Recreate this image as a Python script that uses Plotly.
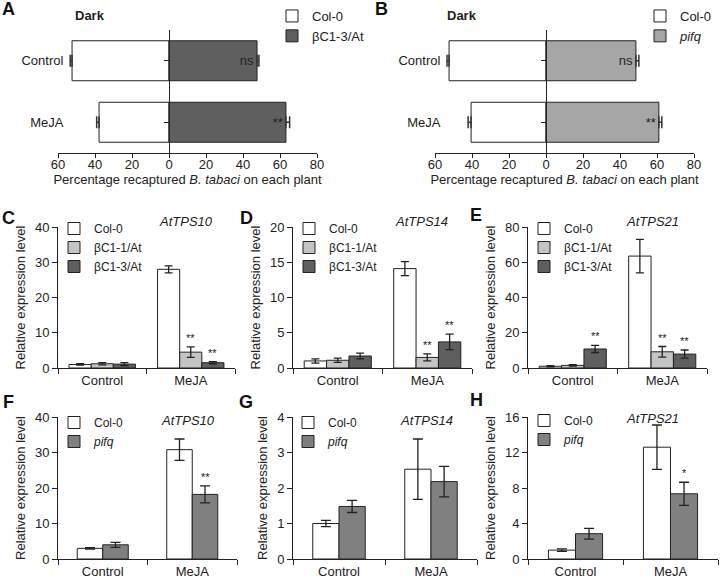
import plotly.graph_objects as go

W, H = 721, 581
FONT = "Liberation Sans, Arial, sans-serif"

# ---------------- data ----------------
treatments = ["Control", "MeJA"]

# Panel A (percentage recaptured, Dark)
a_col0 = [52.4, 37.8]
a_col0_err = [1.0, 1.3]
a_bc13 = [47.6, 63.2]
a_bc13_err = [1.0, 2.0]
a_sig = ["ns", "**"]

# Panel B
b_col0 = [52.4, 40.5]
b_col0_err = [1.1, 1.6]
b_pifq = [48.6, 61.0]
b_pifq_err = [1.6, 1.6]
b_sig = ["ns", "**"]

# Panel C  AtTPS10
c_col0 = [1.0, 28.0]
c_col0_err = [0.2, 1.0]
c_bc11 = [1.2, 4.5]
c_bc11_err = [0.3, 1.5]
c_bc13 = [1.1, 1.5]
c_bc13_err = [0.4, 0.3]
c_sig11 = ["", "**"]
c_sig13 = ["", "**"]

# Panel D  AtTPS14
d_col0 = [1.0, 14.1]
d_col0_err = [0.3, 1.0]
d_bc11 = [1.1, 1.5]
d_bc11_err = [0.3, 0.5]
d_bc13 = [1.7, 3.7]
d_bc13_err = [0.4, 1.1]
d_sig11 = ["", "**"]
d_sig13 = ["", "**"]

# Panel E  AtTPS21
e_col0 = [1.0, 63.5]
e_col0_err = [0.3, 9.5]
e_bc11 = [1.5, 9.2]
e_bc11_err = [0.4, 3.0]
e_bc13 = [10.8, 7.9]
e_bc13_err = [2.0, 2.3]
e_sig11 = ["", "**"]
e_sig13 = ["**", "**"]

# Panel F  AtTPS10 (pifq)
f_col0 = [3.0, 30.8]
f_col0_err = [0.2, 3.0]
f_pifq = [4.0, 18.2]
f_pifq_err = [0.7, 2.4]
f_sig = ["", "**"]

# Panel G  AtTPS14 (pifq)
g_col0 = [1.0, 2.53]
g_col0_err = [0.09, 0.85]
g_pifq = [1.48, 2.18]
g_pifq_err = [0.17, 0.43]
g_sig = ["", ""]

# Panel H  AtTPS21 (pifq)
h_col0 = [1.0, 12.6]
h_col0_err = [0.15, 2.5]
h_pifq = [2.85, 7.35]
h_pifq_err = [0.6, 1.3]
h_sig = ["", "*"]

# ---------------- styling ----------------
C_WHITE = "#ffffff"
C_DARK = "#5f5f5f"
C_LIGHT = "#c4c4c4"
C_MID = "#808080"
C_B = "#a6a6a6"
EDGE = "#222222"

def px(x):
    return x / W

def py(y):
    return 1 - y / H

# subplot pixel boxes: left, right, top, bottom
boxes = {
    1: (58, 317, 30, 153),
    2: (435, 694, 30, 153),
    3: (58, 235, 227, 368),
    4: (293, 472, 227, 368),
    5: (528, 707, 227, 368),
    6: (58, 237, 417, 559),
    7: (293, 477, 417, 559),
    8: (528, 718, 417, 559),
}
gene_pos = {3: (186, 222), 4: (421, 222), 5: (652, 222), 6: (188, 420), 7: (427, 420), 8: (652, 418)}

fig = go.Figure()
annotations = []


def hpanel(k, col0, col0_err, mut, mut_err, mut_name, mut_color, sig, leg):
    xa, ya = f"x{k}", f"y{k}"
    fig.add_trace(go.Bar(
        y=treatments, x=[-v for v in col0], orientation="h", name="Col-0",
        width=0.65, marker=dict(color=C_WHITE, line=dict(color=EDGE, width=1)),
        error_x=dict(type="data", symmetric=False, array=[0] * len(col0),
                     arrayminus=col0_err, color="#333", thickness=1.5, width=6),
        xaxis=xa, yaxis=ya, legend=leg))
    fig.add_trace(go.Bar(
        y=treatments, x=mut, orientation="h", name=mut_name,
        width=0.65, marker=dict(color=mut_color, line=dict(color=EDGE, width=1)),
        error_x=dict(type="data", symmetric=False, array=mut_err,
                     arrayminus=[0] * len(mut), color="#333", thickness=1.5, width=6),
        text=sig, textposition="inside", insidetextanchor="end",
        textfont=dict(size=13, color="#222", family=FONT), constraintext="none",
        xaxis=xa, yaxis=ya, legend=leg))


def vpanel(k, series, gene, leg, width, offsets, capw):
    xa, ya = f"x{k}", f"y{k}"
    for (name, vals, errs, color, sig), off in zip(series, offsets):
        fig.add_trace(go.Bar(
            x=treatments, y=vals, name=name, width=width, offset=off,
            marker=dict(color=color, line=dict(color=EDGE, width=1)),
            error_y=dict(type="data", array=errs, color="#222", thickness=1.3, width=capw),
            xaxis=xa, yaxis=ya, legend=leg))
        for i, s in enumerate(sig):
            if s:
                annotations.append(dict(
                    x=i + off + width / 2, y=vals[i] + errs[i], xref=xa, yref=ya,
                    text=s, showarrow=False, xanchor="center", yanchor="bottom", yshift=1,
                    font=dict(size=11, color="#222", family=FONT)))
    gx, gy = gene_pos[k]
    annotations.append(dict(x=px(gx), y=py(gy), xref="paper", yref="paper",
                            text=f"<i>{gene}</i>", showarrow=False, xanchor="center",
                            yanchor="middle", font=dict(size=13, color="#222", family=FONT)))


hpanel(1, a_col0, a_col0_err, a_bc13, a_bc13_err, "βC1-3/At", C_DARK, a_sig, "legend")
hpanel(2, b_col0, b_col0_err, b_pifq, b_pifq_err, "<i>pifq</i>", C_B, b_sig, "legend2")

W3 = 0.25
OFF3 = [-0.375, -0.125, 0.125]
W2 = 0.285
OFF2 = [-0.285, 0.0]

vpanel(3, [("Col-0", c_col0, c_col0_err, C_WHITE, ["", ""]),
           ("βC1-1/At", c_bc11, c_bc11_err, C_LIGHT, c_sig11),
           ("βC1-3/At", c_bc13, c_bc13_err, C_DARK, c_sig13)],
       "AtTPS10", "legend3", W3, OFF3, 4)
vpanel(4, [("Col-0", d_col0, d_col0_err, C_WHITE, ["", ""]),
           ("βC1-1/At", d_bc11, d_bc11_err, C_LIGHT, d_sig11),
           ("βC1-3/At", d_bc13, d_bc13_err, C_DARK, d_sig13)],
       "AtTPS14", "legend4", W3, OFF3, 4)
vpanel(5, [("Col-0", e_col0, e_col0_err, C_WHITE, ["", ""]),
           ("βC1-1/At", e_bc11, e_bc11_err, C_LIGHT, e_sig11),
           ("βC1-3/At", e_bc13, e_bc13_err, C_DARK, e_sig13)],
       "AtTPS21", "legend5", W3, OFF3, 4)
vpanel(6, [("Col-0", f_col0, f_col0_err, C_WHITE, ["", ""]),
           ("<i>pifq</i>", f_pifq, f_pifq_err, C_MID, f_sig)],
       "AtTPS10", "legend6", W2, OFF2, 5)
vpanel(7, [("Col-0", g_col0, g_col0_err, C_WHITE, ["", ""]),
           ("<i>pifq</i>", g_pifq, g_pifq_err, C_MID, g_sig)],
       "AtTPS14", "legend7", W2, OFF2, 5)
vpanel(8, [("Col-0", h_col0, h_col0_err, C_WHITE, ["", ""]),
           ("<i>pifq</i>", h_pifq, h_pifq_err, C_MID, h_sig)],
       "AtTPS21", "legend8", W2, OFF2, 5)

layout = dict(width=W, height=H, margin=dict(l=0, r=0, t=0, b=0, autoexpand=False),
              template="none",
              paper_bgcolor="white", plot_bgcolor="white", barmode="overlay",
              font=dict(family=FONT, size=13, color="#222"))

axis_common = dict(showgrid=False, zeroline=False, showline=True, linecolor="#222",
                   linewidth=1, ticks="outside", tickcolor="#222", automargin=False,
                   tickfont=dict(size=13, color="#222", family=FONT))

ranges = {3: (40, 10), 4: (20, 5), 5: (80, 20), 6: (40, 10), 7: (4, 1), 8: (16, 4)}
for k, (l, r, t, b) in boxes.items():
    xk = "xaxis" if k == 1 else f"xaxis{k}"
    yk = "yaxis" if k == 1 else f"yaxis{k}"
    if k in (1, 2):
        zero_pos = l + (r - l) * 60 / 140
        layout[xk] = dict(axis_common, domain=[px(l), px(r)], anchor=f"y{k}",
                          range=[-60, 80], tickvals=[-60, -40, -20, 0, 20, 40, 60, 80],
                          ticktext=["60", "40", "20", "0", "20", "40", "60", "80"],
                          ticklen=4, ticklabelstandoff=-5,
                          title=dict(text="Percentage recaptured <i>B. tabaci</i> on each plant",
                                     font=dict(size=13, family=FONT, color="#222"), standoff=2))
        layout[yk] = dict(axis_common, domain=[py(b), py(t)], anchor="free",
                          position=px(zero_pos), type="category",
                          categoryorder="array", categoryarray=treatments,
                          range=[1.5, -0.5], ticklen=5, ticklabelstandoff=98)
    else:
        ymax, dt = ranges[k]
        layout[xk] = dict(axis_common, domain=[px(l), px(r)], anchor=f"y{k}",
                          type="category", range=[-0.5, 1.5], tickson="boundaries",
                          ticklen=5)
        layout[yk] = dict(axis_common, domain=[py(b), py(t)], anchor=f"x{k}",
                          range=[0, ymax], dtick=dt, ticklen=5,
                          title=dict(text="Relative expression level",
                                     font=dict(size=13, family=FONT, color="#222"), standoff=6))

# legends
leg_base = dict(bgcolor="rgba(0,0,0,0)", xanchor="left", yanchor="top", itemwidth=30,
                tracegroupgap=0, itemclick=False, itemdoubleclick=False)
leg_pos = {
    "legend": (272, 1, 13), "legend2": (640, 1, 13),
    "legend3": (54, 214, 12), "legend4": (289, 214, 12), "legend5": (524, 214, 12),
    "legend6": (54, 408, 12), "legend7": (288, 408, 12), "legend8": (524, 406, 12),
}
for name, (lx, ly, fs) in leg_pos.items():
    layout[name] = dict(leg_base, x=px(lx), y=py(ly), font=dict(size=fs, family=FONT, color="#222"))

# panel letters and titles
letters = [("A", 8, 9), ("B", 381, 9), ("C", 8, 218), ("D", 246, 218), ("E", 476, 215),
           ("F", 8, 402), ("G", 246, 402), ("H", 476, 400)]
for txt, x, y in letters:
    annotations.append(dict(x=px(x), y=py(y), xref="paper", yref="paper", text=f"<b>{txt}</b>",
                            showarrow=False, xanchor="center", yanchor="middle",
                            font=dict(size=18, family=FONT, color="#111")))
for x in (90, 462):
    annotations.append(dict(x=px(x), y=py(15), xref="paper", yref="paper", text="<b>Dark</b>",
                            showarrow=False, xanchor="center", yanchor="middle",
                            font=dict(size=13, family=FONT, color="#222")))

layout["annotations"] = annotations
fig.update_layout(**layout)
fig.write_html("out.html", config={"displayModeBar": False},
               post_script="document.body.style.margin='0';document.body.style.overflow='hidden';")
